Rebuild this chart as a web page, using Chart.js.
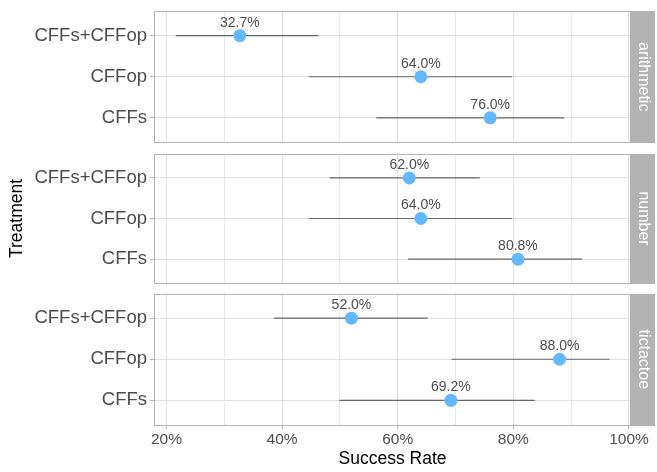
<!DOCTYPE html>
<html>
<head>
<meta charset="utf-8">
<script src="https://cdn.jsdelivr.net/npm/chart.js@4.4.1/dist/chart.umd.min.js"></script>
<style>
  html, body { margin: 0; padding: 0; background: #ffffff; }
  #wrap { position: relative; width: 657px; height: 472px; overflow: hidden; background: #fff; }
  .panel { position: absolute; left: 0; width: 657px; }
</style>
</head>
<body>
<div id="wrap">
  <div class="panel" style="top:0px;height:149px;"><canvas id="c0"></canvas></div>
  <div class="panel" style="top:147px;height:143px;"><canvas id="c1"></canvas></div>
  <div class="panel" style="top:287px;height:185px;"><canvas id="c2"></canvas></div>
</div>
<script>
// ---- data ----
const tasks = ['arithmetic', 'number', 'tictactoe'];
const treatments = ['CFFs+CFFop', 'CFFop', 'CFFs']; // top to bottom

const rateArithmetic = [32.7, 64.0, 76.0];
const lowArithmetic  = [21.6, 44.6, 56.3];
const highArithmetic = [46.3, 79.8, 88.8];

const rateNumber = [62.0, 64.0, 80.8];
const lowNumber  = [48.2, 44.6, 61.8];
const highNumber = [74.2, 79.8, 91.9];

const rateTictactoe = [52.0, 88.0, 69.2];
const lowTictactoe  = [38.6, 69.3, 49.9];
const highTictactoe = [65.2, 96.6, 83.7];

const xTicks = [20, 30, 40, 50, 60, 70, 80, 90, 100];
const xMin = 17.85, xMax = 100.35;

const panelRates = [rateArithmetic, rateNumber, rateTictactoe];
const panelLows  = [lowArithmetic, lowNumber, lowTictactoe];
const panelHighs = [highArithmetic, highNumber, highTictactoe];

// ---- style ----
const FONT = "'Liberation Sans', Arial, Helvetica, sans-serif";
const POINT = '#63B8FF';
const GRID = '#e0e0e0';
const FRAME = '#b3b3b3';
const TXT = '#4d4d4d';

const facetPlugin = {
  id: 'facet',
  afterDatasetsDraw(chart) {
    const ctx = chart.ctx;
    const xs = chart.scales.x, ys = chart.scales.y;
    ctx.save();
    ctx.fillStyle = TXT;
    ctx.font = '14px ' + FONT;
    ctx.textAlign = 'center';
    ctx.textBaseline = 'middle';
    const ds = chart.data.datasets[0].data;
    ds.forEach((d) => {
      const px = xs.getPixelForValue(d.x);
      const py = ys.getPixelForValue(d.y);
      ctx.fillText(d.x.toFixed(1) + '%', px, py - 13);
    });
    ctx.restore();
  },
  afterDraw(chart, args, opts) {
    const ctx = chart.ctx;
    const a = chart.chartArea;
    ctx.save();
    ctx.strokeStyle = FRAME;
    ctx.lineWidth = 1;
    ctx.strokeRect(Math.round(a.left) + 0.5, Math.round(a.top) + 0.5,
                   Math.round(a.right - a.left) - 1, Math.round(a.bottom - a.top) - 1);
    // strip
    const sx = Math.round(a.right);
    const sw = 24;
    ctx.fillStyle = '#b3b3b3';
    ctx.fillRect(sx, Math.round(a.top), sw, Math.round(a.bottom - a.top));
    ctx.translate(sx + sw / 2, (a.top + a.bottom) / 2);
    ctx.rotate(Math.PI / 2);
    ctx.fillStyle = '#ffffff';
    ctx.font = '16px ' + FONT;
    ctx.textAlign = 'center';
    ctx.textBaseline = 'middle';
    ctx.fillText(opts.label, 0, 0);
    ctx.restore();
  }
};

function makePanel(i) {
  const isBottom = i === 2;
  const isMiddle = i === 1;
  const rates = panelRates[i], lows = panelLows[i], highs = panelHighs[i];
  const datasets = [{
    type: 'scatter',
    data: rates.map((r, k) => ({ x: r, y: 3 - k })),
    backgroundColor: POINT,
    borderColor: POINT,
    borderWidth: 0,
    pointRadius: 6.5,
    pointHoverRadius: 6.5,
    order: 0
  }];
  treatments.forEach((t, k) => {
    datasets.push({
      type: 'line',
      data: [{ x: lows[k], y: 3 - k }, { x: highs[k], y: 3 - k }],
      borderColor: '#666666',
      borderWidth: 1.2,
      pointRadius: 0,
      fill: false,
      order: 1
    });
  });
  const pad = [
    { top: 11, bottom: 5 },
    { top: 5, bottom: 5 },
    { top: 5, bottom: 0 }
  ][i];
  return new Chart(document.getElementById('c' + i), {
    type: 'scatter',
    data: { datasets },
    options: {
      responsive: true,
      maintainAspectRatio: false,
      animation: false,
      events: [],
      layout: { padding: { left: 0, right: 26, top: pad.top, bottom: pad.bottom } },
      plugins: {
        legend: { display: false },
        tooltip: { enabled: false },
        facet: { label: tasks[i] }
      },
      scales: {
        x: {
          type: 'linear',
          min: xMin,
          max: xMax,
          afterBuildTicks: (s) => { s.ticks = xTicks.map(v => ({ value: v })); },
          afterFit: (s) => {
            s.height = isBottom ? 47 : 0;
            s.paddingLeft = 0; s.paddingRight = 0; s.paddingTop = 0; s.paddingBottom = 0;
          },
          border: { display: false },
          grid: {
            color: GRID,
            lineWidth: (c) => (c.tick && c.tick.value % 20 === 0) ? 1 : 0.7,
            drawTicks: isBottom,
            tickLength: 4,
            tickColor: (c) => (c.tick && c.tick.value % 20 === 0) ? FRAME : 'rgba(0,0,0,0)'
          },
          ticks: {
            display: isBottom,
            autoSkip: false,
            maxRotation: 0,
            padding: 1,
            color: TXT,
            font: { family: FONT, size: 15.5 },
            callback: (v) => (v % 20 === 0 ? v + '%' : '')
          },
          title: {
            display: isBottom,
            text: 'Success Rate',
            color: '#000000',
            font: { family: FONT, size: 17.5 },
            padding: { top: 0, bottom: 2 }
          }
        },
        y: {
          type: 'linear',
          min: 0.4,
          max: 3.6,
          afterBuildTicks: (s) => { s.ticks = [1, 2, 3].map(v => ({ value: v })); },
          afterFit: (s) => {
            s.width = 154;
            s.paddingLeft = 0; s.paddingRight = 0; s.paddingTop = 0; s.paddingBottom = 0;
          },
          border: { display: false },
          grid: {
            color: GRID,
            lineWidth: 1,
            drawTicks: true,
            tickLength: 4,
            tickColor: FRAME
          },
          ticks: {
            padding: 3,
            color: TXT,
            font: { family: FONT, size: 18.5 },
            callback: (v) => treatments[3 - v]
          },
          title: {
            display: isMiddle,
            text: 'Treatment',
            color: '#000000',
            font: { family: FONT, size: 17.5 },
            padding: { top: 6.5, bottom: 0 }
          }
        }
      }
    },
    plugins: [facetPlugin]
  });
}

[0, 1, 2].forEach(makePanel);
</script>
</body>
</html>
